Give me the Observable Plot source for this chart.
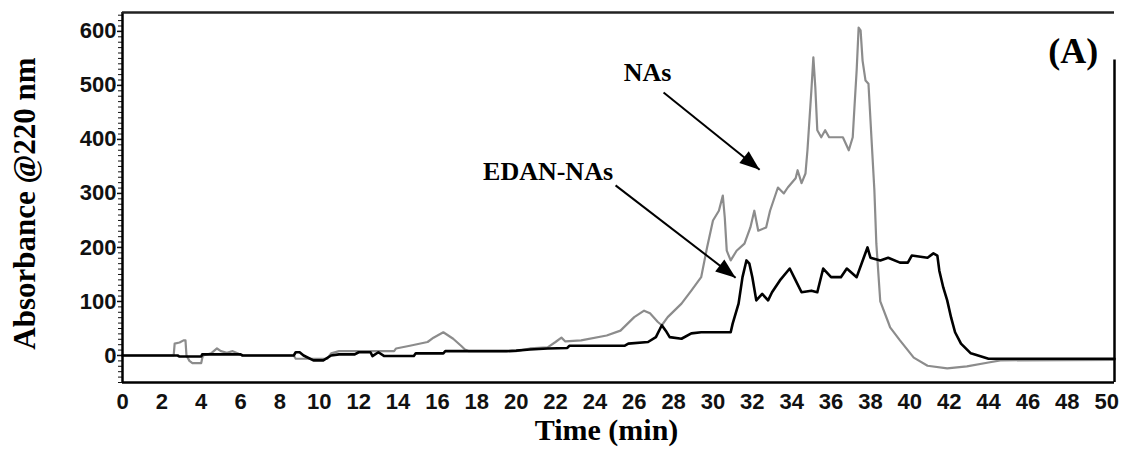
<!DOCTYPE html>
<html><head><meta charset="utf-8">
<script src="https://cdn.jsdelivr.net/npm/d3@7"></script>
<script src="https://cdn.jsdelivr.net/npm/@observablehq/plot@0.6"></script>
<style>body{margin:0;background:#fff}</style>
</head><body><div id="chart"></div>
<script>
// NAs (grey trace)
const naTime = [0,2.6,2.65,2.9,3.1,3.2,3.25,3.4,3.55,4.0,4.05,4.1,4.5,4.8,5.0,5.3,5.6,5.9,6.1,8.7,8.8,10.4,10.6,11.0,13.8,13.9,14.6,15.5,15.8,16.3,16.8,17.2,17.4,17.6,20.0,20.7,21.6,22.0,22.3,22.5,23.3,24.6,25.3,26.0,26.5,26.8,27.2,27.4,27.7,28.4,28.9,29.4,29.7,30.0,30.3,30.5,30.6,30.7,30.9,31.2,31.6,31.9,32.1,32.3,32.7,32.9,33.3,33.6,33.8,34.2,34.3,34.5,34.7,34.8,35.0,35.1,35.2,35.3,35.5,35.7,35.9,36.6,36.9,37.1,37.2,37.3,37.4,37.5,37.6,37.75,37.9,38.05,38.2,38.3,38.5,38.9,39.0,39.5,40.2,40.9,41.9,42.9,44.0,44.6,50.4];
const naAbs  = [0,0,22,24,28,28,0,-10,-14,-14,-5,0,4,13,8,5,8,3,0,0,-6,-6,4,8,8,13,18,25,33,43,31,18,11,8,8,13,15,25,33,26,28,37,46,71,83,78,62,56,71,96,120,145,200,250,268,296,255,194,176,194,207,237,268,231,237,268,311,300,311,328,343,319,337,380,491,552,496,417,404,417,404,404,380,404,467,528,607,602,546,509,503,404,306,207,100,62,52,28,-4,-19,-24,-20,-13,-9,-8];
// EDAN-NAs (black trace)
const edanTime = [0,2.8,2.9,4.0,4.05,6.0,6.1,8.7,8.8,9.0,9.2,9.7,10.2,10.6,11.0,11.8,12.0,12.6,12.7,13.0,13.3,14.8,14.9,16.3,16.4,17.5,19.5,20.0,20.7,21.6,22.6,22.7,25.5,25.7,26.7,27.1,27.4,27.6,27.8,28.4,28.9,29.4,30.9,31.0,31.3,31.5,31.7,31.85,32.0,32.2,32.5,32.8,33.0,33.4,33.9,34.2,34.5,35.0,35.3,35.6,36.0,36.5,36.8,37.3,37.7,37.85,38.0,38.5,38.9,39.5,39.9,40.1,40.9,41.2,41.4,41.5,41.7,41.9,42.1,42.3,42.6,43.1,44.0,50.4];
const edanAbs  = [0,0,-2,-2,2,2,0,0,6,6,0,-9,-9,0,2,2,6,6,-1,6,-1,-1,4,4,8,8,8,9,11,13,14,18,18,22,25,34,56,46,34,31,41,43,43,59,96,145,176,170,145,102,114,102,117,139,161,139,117,120,117,161,145,145,161,145,185,200,181,176,181,172,172,185,181,189,185,157,126,102,70,43,22,4,-6,-6];

const xTicks = d3.range(0, 51, 2);
const yTicks = [0, 100, 200, 300, 400, 500, 600];
const yMinorTicks = d3.range(-50, 631, 10);

const labelNames = ["NAs", "EDAN-NAs"];
const labelTime = [26.68, 21.62];
const labelAbs = [509, 324];
const arrowT1 = [27.49, 25.05], arrowV1 = [487, 315];
const arrowT2 = [32.37, 31.15], arrowV2 = [344, 144];

const W = 1136, H = 455, mL = 122, mR = 22, mT = 12, mB = 73;
const xDomain = [0, 50.4], yDomain = [-50, 635];

const na = naTime.map((t, i) => ({t, v: naAbs[i]}));
const edan = edanTime.map((t, i) => ({t, v: edanAbs[i]}));
const labels = labelNames.map((s, i) => ({s, t: labelTime[i], v: labelAbs[i]}));

const xs = Plot.scale({x: {domain: xDomain, range: [mL, W - mR]}});
const ys = Plot.scale({y: {domain: yDomain, range: [H - mB, mT]}});
const arrows = arrowT1.map((t, i) => {
  const dx = xs.apply(arrowT2[i]) - xs.apply(t), dy = ys.apply(arrowV2[i]) - ys.apply(arrowV1[i]);
  return {x1: t, y1: arrowV1[i], x2: arrowT2[i], y2: arrowV2[i], angle: Math.atan2(dy, dx) * 180 / Math.PI};
});
const head = {draw(ctx) { ctx.moveTo(0, 0); ctx.lineTo(-20, -7.5); ctx.lineTo(-20, 7.5); ctx.closePath(); }};

const serif = "Liberation Serif, Times New Roman, serif";
const plot = Plot.plot({
  width: W, height: H,
  marginLeft: mL, marginRight: mR, marginTop: mT, marginBottom: mB,
  style: {fontFamily: "Liberation Sans, Arial, sans-serif", background: "#fff", color: "#111"},
  x: {domain: xDomain, axis: null},
  y: {domain: yDomain, axis: null},
  marks: [
    Plot.axisY(yMinorTicks, {tickSize: 4, tickFormat: () => "", label: null, strokeWidth: 1}),
    Plot.axisY(yTicks, {tickSize: 5, tickPadding: 1, fontSize: 22, fontWeight: "bold", label: null, strokeWidth: 1.5}),
    Plot.axisX(xTicks, {tickSize: 0, tickPadding: 11, fontSize: 22, fontWeight: "bold", label: null}),
    Plot.line(na, {x: "t", y: "v", stroke: "#8c8c8c", strokeWidth: 2.2}),
    Plot.line(edan, {x: "t", y: "v", stroke: "#000", strokeWidth: 2.6}),
    Plot.ruleX([xDomain[0]], {stroke: "#000", strokeWidth: 2.5}),
    Plot.ruleY([yDomain[0]], {stroke: "#000", strokeWidth: 2.5}),
    Plot.ruleY([yDomain[1]], {stroke: "#222", strokeWidth: 2.5}),
    Plot.ruleX([xDomain[1]], {y1: yDomain[0], y2: 547, stroke: "#000", strokeWidth: 2.5}),
    Plot.link(arrows, {x1: "x1", y1: "y1", x2: "x2", y2: "y2", stroke: "#000", strokeWidth: 2}),
    Plot.dot(arrows, {x: "x2", y: "y2", symbol: head, r: 5, rotate: "angle", fill: "#000", stroke: null}),
    Plot.text(labels, {x: "t", y: "v", text: "s", fontFamily: serif, fontWeight: "bold", fontSize: 26, lineAnchor: "bottom", fill: "#000"}),
    Plot.text(["(A)"], {x: 48.3, y: 542, fontFamily: serif, fontWeight: "bold", fontSize: 36, lineAnchor: "bottom", fill: "#000"}),
    Plot.text(["Absorbance @220 nm"], {frameAnchor: "left", rotate: -90, dx: -97, dy: 6, textAnchor: "middle", fontFamily: serif, fontWeight: "bold", fontSize: 31, lineAnchor: "middle", fill: "#000"}),
    Plot.text(["Time (min)"], {frameAnchor: "bottom", dx: -12, dy: 57, textAnchor: "middle", fontFamily: serif, fontWeight: "bold", fontSize: 30, lineAnchor: "bottom", fill: "#000"})
  ]
});
document.getElementById("chart").append(plot);
</script>
</body></html>
